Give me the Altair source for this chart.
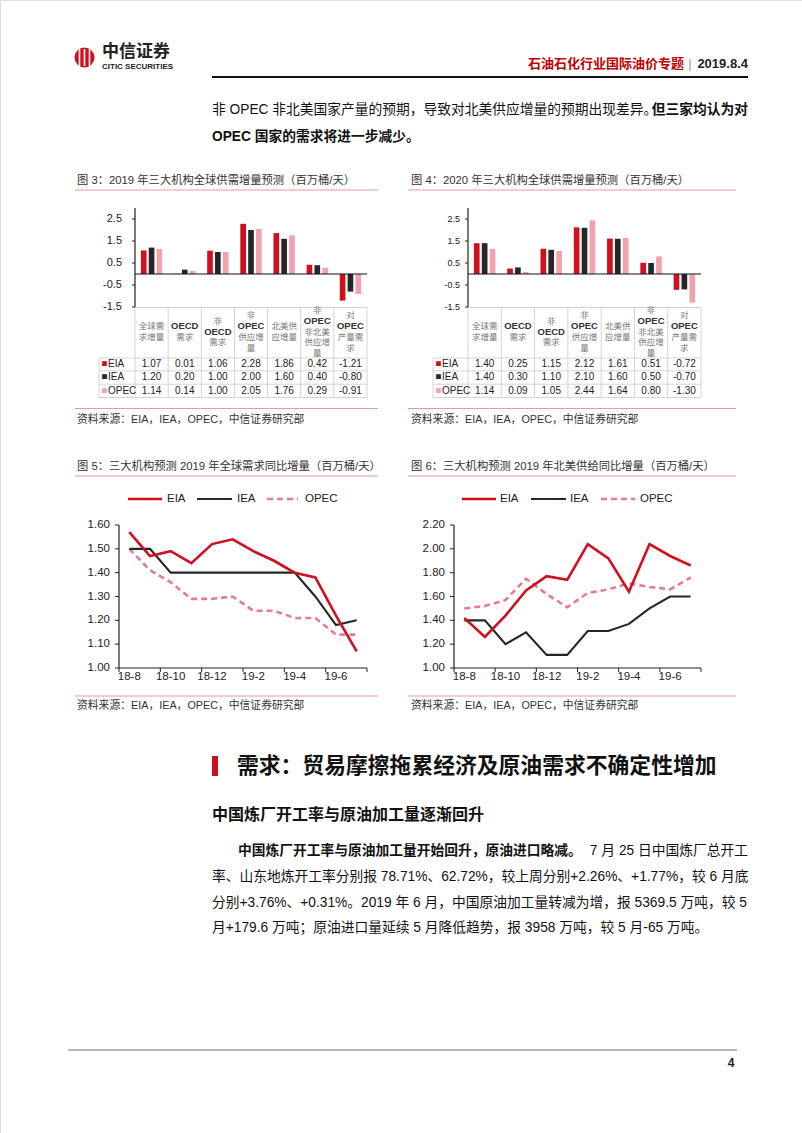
import altair as alt
import pandas as pd

W, H = 802, 1133
FONT = "Liberation Sans, Noto Sans CJK SC, sans-serif"
CJK = "Noto Sans CJK SC, sans-serif"

# ---------------- data ----------------
agencies = ["EIA", "IEA", "OPEC"]
bar_categories = ["全球需求增量", "OECD需求", "非OECD需求", "非OPEC供应增量",
                  "北美供应增量", "非OPEC非北美供应增量", "对OPEC产量需求"]
header_lines = [["全球需", "求增量"], ["OECD", "需求"], ["非", "OECD", "需求"],
                ["非", "OPEC", "供应增", "量"], ["北美供", "应增量"],
                ["非", "OPEC", "非北美", "供应增", "量"], ["对", "OPEC", "产量需", "求"]]
fig3_eia = [1.07, 0.01, 1.06, 2.28, 1.86, 0.42, -1.21]
fig3_iea = [1.20, 0.20, 1.00, 2.00, 1.60, 0.40, -0.80]
fig3_opec = [1.14, 0.14, 1.00, 2.05, 1.76, 0.29, -0.91]
fig4_eia = [1.40, 0.25, 1.15, 2.12, 1.61, 0.51, -0.72]
fig4_iea = [1.40, 0.30, 1.10, 2.10, 1.60, 0.50, -0.70]
fig4_opec = [1.14, 0.09, 1.05, 2.44, 1.64, 0.80, -1.30]
bar_y_ticks = [2.5, 1.5, 0.5, -0.5, -1.5]
bar_y_labels = ["2.5", "1.5", "0.5", "-0.5", "-1.5"]

months = ["18-8", "18-9", "18-10", "18-11", "18-12", "19-1",
          "19-2", "19-3", "19-4", "19-5", "19-6", "19-7"]
month_labels = ["18-8", "18-10", "18-12", "19-2", "19-4", "19-6"]
fig5_eia = [1.57, 1.47, 1.49, 1.44, 1.52, 1.54, 1.49, 1.45, 1.40, 1.38, 1.22, 1.07]
fig5_iea = [1.50, 1.50, 1.40, 1.40, 1.40, 1.40, 1.40, 1.40, 1.40, 1.30, 1.18, 1.20]
fig5_opec = [1.50, 1.41, 1.36, 1.29, 1.29, 1.30, 1.24, 1.24, 1.21, 1.21, 1.14, 1.14]
fig5_y_ticks = [1.0, 1.1, 1.2, 1.3, 1.4, 1.5, 1.6]
fig5_y_labels = ["1.00", "1.10", "1.20", "1.30", "1.40", "1.50", "1.60"]
fig6_eia = [1.42, 1.26, 1.44, 1.65, 1.77, 1.74, 2.04, 1.92, 1.64, 2.04, 1.94, 1.86]
fig6_iea = [1.40, 1.40, 1.20, 1.30, 1.11, 1.11, 1.31, 1.31, 1.37, 1.50, 1.60, 1.60]
fig6_opec = [1.50, 1.52, 1.57, 1.75, 1.62, 1.51, 1.63, 1.66, 1.71, 1.68, 1.66, 1.76]
fig6_y_ticks = [1.0, 1.2, 1.4, 1.6, 1.8, 2.0, 2.2]
fig6_y_labels = ["1.00", "1.20", "1.40", "1.60", "1.80", "2.00", "2.20"]

# ---------------- styles ----------------
BAR_COLORS = ["#D0101F", "#262626", "#F2A2AE"]
LINE_COLORS = {"EIA": "#D0101F", "IEA": "#262626", "OPEC": "#E27D90"}
TEXT = "#111111"
PINK_RULE = "#E39AA2"
GRID = "#D4D4D4"
BODY = 13.75

one = pd.DataFrame({"d": [0]})


def text(s, x, y, size=BODY, weight="normal", color=TEXT, align="left", font=FONT):
    return alt.Chart(one).mark_text(
        text=s, fontSize=size, fontWeight=weight, color=color, align=align,
        baseline="middle", font=font).encode(x=alt.value(x), y=alt.value(y))


def hrule(x1, x2, y, color, w=1.0):
    return alt.Chart(one).mark_rule(color=color, strokeWidth=w).encode(
        x=alt.value(x1), x2=alt.value(x2), y=alt.value(y))


def vrule(x, y1, y2, color, w=1.0):
    return alt.Chart(one).mark_rule(color=color, strokeWidth=w).encode(
        x=alt.value(x), y=alt.value(y1), y2=alt.value(y2))


def box(x1, x2, y1, y2, color):
    return alt.Chart(one).mark_rect(color=color).encode(
        x=alt.value(x1), x2=alt.value(x2), y=alt.value(y1), y2=alt.value(y2))


def bar_panel(values, x0, x1, tick_x, tick_size, tbl_left):
    L = []
    ys = alt.Scale(domain=[-1.5, 3.0], range=[307, 208], nice=False, zero=False)
    xs = alt.Scale(type="band", domain=bar_categories, range=[x0, x1],
                   paddingInner=0, paddingOuter=0)
    rows = []
    for a, vals in zip(agencies, values):
        for c, v in zip(bar_categories, vals):
            rows.append({"cat": c, "agency": a, "value": v, "label": f"{v:.2f}"})
    df = pd.DataFrame(rows)
    # table grid
    cats = pd.DataFrame({"cat": bar_categories})
    L.append(alt.Chart(cats).mark_rule(color=GRID, strokeWidth=1).encode(
        x=alt.X("cat:N", scale=xs, axis=None, bandPosition=0),
        y=alt.value(307), y2=alt.value(397.5)))
    L.append(vrule(x1, 307, 397.5, GRID))
    L.append(vrule(tbl_left, 358, 397.5, GRID))
    L.append(hrule(x0, x1, 307.5, GRID))
    for yy in [358, 370.8, 384.2, 397.5]:
        L.append(hrule(tbl_left, x1, yy, GRID))
    # bars
    L.append(alt.Chart(df).mark_bar().encode(
        x=alt.X("cat:N", scale=xs, axis=None),
        xOffset=alt.XOffset("agency:N", scale=alt.Scale(domain=agencies, paddingInner=0.28,
                                                         paddingOuter=0.75)),
        y=alt.Y("value:Q", scale=ys, axis=None),
        y2=alt.datum(0),
        color=alt.Color("agency:N", scale=alt.Scale(domain=agencies, range=BAR_COLORS),
                        legend=None)))
    # y axis
    L.append(alt.Chart(one).mark_rule(color="#222", strokeWidth=1.2).encode(
        x=alt.value(x0), y=alt.Y(datum=-1.5, scale=ys, axis=None), y2=alt.Y2(datum=3.0)))
    tdf = pd.DataFrame({"v": bar_y_ticks, "lab": bar_y_labels})
    L.append(alt.Chart(tdf).mark_rule(color="#222", strokeWidth=1).encode(
        x=alt.value(x0 - 3), x2=alt.value(x0), y=alt.Y("v:Q", scale=ys, axis=None)))
    L.append(alt.Chart(tdf).mark_text(align="right", baseline="middle", fontSize=tick_size,
                                      font=FONT, color="#222").encode(
        x=alt.value(tick_x), y=alt.Y("v:Q", scale=ys, axis=None), text="lab:N"))
    # zero line
    L.append(alt.Chart(one).mark_rule(color="#111", strokeWidth=1.2).encode(
        x=alt.value(x0), x2=alt.value(x1), y=alt.Y(datum=0, scale=ys, axis=None)))
    # header cells
    hrows = []
    for c, lines in zip(bar_categories, header_lines):
        n = len(lines)
        for i, s in enumerate(lines):
            hrows.append({"cat": c, "off": i - (n - 1) / 2, "t": s,
                          "latin": s.isascii()})
    hdf = pd.DataFrame(hrows)
    hs = alt.Scale(domain=[-2, 2], range=[331.5 - 21.6, 331.5 + 21.6], nice=False, zero=False)
    L.append(alt.Chart(hdf[~hdf.latin]).mark_text(fontSize=8.5, font=CJK, color="#777",
                                                 baseline="middle").encode(
        x=alt.X("cat:N", scale=xs, axis=None), y=alt.Y("off:Q", scale=hs, axis=None), text="t:N"))
    L.append(alt.Chart(hdf[hdf.latin]).mark_text(fontSize=9.5, font=FONT, color="#333",
                                                fontWeight="bold", baseline="middle").encode(
        x=alt.X("cat:N", scale=xs, axis=None), y=alt.Y("off:Q", scale=hs, axis=None), text="t:N"))
    # values
    rs = alt.Scale(type="point", domain=agencies, range=[364, 390.8], padding=0)
    L.append(alt.Chart(df).mark_text(fontSize=10, font=FONT, color="#222",
                                     baseline="middle").encode(
        x=alt.X("cat:N", scale=xs, axis=None), y=alt.Y("agency:N", scale=rs, axis=None),
        text="label:N"))
    adf = pd.DataFrame({"agency": agencies})
    L.append(alt.Chart(adf).mark_text(text="■", fontSize=6, font=CJK, baseline="middle",
                                      align="left").encode(
        x=alt.value(tbl_left + 2.5), y=alt.Y("agency:N", scale=rs, axis=None),
        color=alt.Color("agency:N", scale=alt.Scale(domain=agencies, range=BAR_COLORS),
                        legend=None)))
    L.append(alt.Chart(adf).mark_text(fontSize=10, font=FONT, baseline="middle",
                                      align="left", color="#222").encode(
        x=alt.value(tbl_left + 9), y=alt.Y("agency:N", scale=rs, axis=None), text="agency:N"))
    return L


def line_panel(series, ticks, tick_labels, ydom, x0, x1, ytop, ybot, lab_x, leg):
    L = []
    xs = alt.Scale(type="point", domain=months, range=[x0, x1], padding=0.5)
    xb = alt.Scale(type="band", domain=months, range=[x0, x1], paddingInner=0, paddingOuter=0)
    ys = alt.Scale(domain=ydom, range=[ybot, ytop], nice=False, zero=False)
    # axes
    L.append(alt.Chart(one).mark_rule(color="#222", strokeWidth=1.2).encode(
        x=alt.value(x0), y=alt.Y(datum=ydom[0], scale=ys, axis=None), y2=alt.Y2(datum=ydom[1])))
    L.append(alt.Chart(one).mark_rule(color="#222", strokeWidth=1.2).encode(
        x=alt.value(x0), x2=alt.value(x1), y=alt.Y(datum=ydom[0], scale=ys, axis=None)))
    tdf = pd.DataFrame({"v": ticks, "lab": tick_labels})
    L.append(alt.Chart(tdf).mark_rule(color="#222", strokeWidth=1).encode(
        x=alt.value(x0 - 4), x2=alt.value(x0), y=alt.Y("v:Q", scale=ys, axis=None)))
    L.append(alt.Chart(tdf).mark_text(align="right", baseline="middle", fontSize=11.5,
                                      font=FONT, color="#222").encode(
        x=alt.value(lab_x), y=alt.Y("v:Q", scale=ys, axis=None), text="lab:N"))
    mdf = pd.DataFrame({"month": months[0::2]})
    L.append(alt.Chart(mdf).mark_rule(color="#222", strokeWidth=1).encode(
        x=alt.X("month:N", scale=xb, axis=None, bandPosition=0),
        y=alt.value(ybot), y2=alt.value(ybot + 4)))
    L.append(vrule(x1, ybot, ybot + 4, "#222"))
    ldf = pd.DataFrame({"month": month_labels})
    L.append(alt.Chart(ldf).mark_text(baseline="middle", fontSize=11.5, font=FONT,
                                      color="#222").encode(
        x=alt.X("month:N", scale=xs, axis=None), y=alt.value(ybot + 9), text="month:N"))
    # series
    for a in ["OPEC", "IEA", "EIA"]:
        d = pd.DataFrame({"month": months, "value": series[a], "i": list(range(len(months)))})
        kw = dict(color=LINE_COLORS[a], strokeWidth=2.6)
        if a == "OPEC":
            kw["strokeDash"] = [6, 4]
        if a == "IEA":
            kw["strokeWidth"] = 2.1
        L.append(alt.Chart(d).mark_line(**kw).encode(
            x=alt.X("month:N", scale=xs, axis=None),
            y=alt.Y("value:Q", scale=ys, axis=None),
            order="i:Q"))
    # legend
    ly = leg[0]
    for a, (lx1, lx2, tx) in zip(agencies, leg[1:]):
        r = alt.Chart(one).mark_rule(color=LINE_COLORS[a],
                                     strokeWidth=2.1 if a == "IEA" else 2.6,
                                     **({"strokeDash": [6, 4]} if a == "OPEC" else {})).encode(
            x=alt.value(lx1), x2=alt.value(lx2), y=alt.value(ly))
        L.append(r)
        L.append(text(a, tx, ly, size=11.5, color="#222"))
    return L


layers = []

# ---------------- page header ----------------
layers.append(alt.Chart(one).mark_circle(size=400, color="#D0101F", opacity=1).encode(
    x=alt.value(84.5), y=alt.value(57.5)))
for xx in [79.5, 84.5, 89.5]:
    layers.append(vrule(xx, 49, 66, "white", 1.6))
layers.append(text("中信证券", 102, 52, size=17, weight="bold", font=CJK, color="#222"))
layers.append(text("CITIC SECURITIES", 102, 66.5, size=8, weight="bold",
                   font="Liberation Sans Narrow, Liberation Sans", color="#222"))
layers.append(text("石油石化行业国际油价专题", 684, 64, size=13, weight="bold",
                   color="#C00000", align="right", font=CJK))
layers.append(text("|", 690, 64, size=13, color="#999", align="center"))
layers.append(text("2019.8.4", 748, 64, size=13, weight="bold", color="#222", align="right"))
layers.append(hrule(212, 748, 77, "#111", 1.8))

# ---------------- top paragraph ----------------
layers.append(text("非 OPEC 非北美国家产量的预期，导致对北美供应增量的预期出现差异。", 212, 110))
layers.append(text("但三家均认为对", 748, 110, weight="bold", align="right"))
layers.append(text("OPEC 国家的需求将进一步减少。", 212, 137, weight="bold"))

# ---------------- figure titles / sources ----------------
TS = 11.3
SS = 10.8
layers.append(text("图 3：2019 年三大机构全球供需增量预测（百万桶/天）", 77, 181, size=TS, color="#333"))
layers.append(text("图 4：2020 年三大机构全球供需增量预测（百万桶/天）", 411, 181, size=TS, color="#333"))
layers.append(hrule(75, 378, 190, PINK_RULE))
layers.append(hrule(408, 736, 190, PINK_RULE))
layers.append(hrule(75, 378, 408.5, PINK_RULE))
layers.append(hrule(408, 736, 408.5, PINK_RULE))
layers.append(text("资料来源：EIA，IEA，OPEC，中信证券研究部", 77, 420, size=SS, color="#333"))
layers.append(text("资料来源：EIA，IEA，OPEC，中信证券研究部", 411, 420, size=SS, color="#333"))

layers.append(text("图 5：三大机构预测 2019 年全球需求同比增量（百万桶/天）", 77, 467, size=TS, color="#333"))
layers.append(text("图 6：三大机构预测 2019 年北美供给同比增量（百万桶/天）", 411, 467, size=TS, color="#333"))
layers.append(hrule(75, 378, 476, PINK_RULE))
layers.append(hrule(408, 736, 476, PINK_RULE))
layers.append(hrule(75, 378, 696, PINK_RULE))
layers.append(hrule(408, 736, 696, PINK_RULE))
layers.append(text("资料来源：EIA，IEA，OPEC，中信证券研究部", 77, 706, size=SS, color="#333"))
layers.append(text("资料来源：EIA，IEA，OPEC，中信证券研究部", 411, 706, size=SS, color="#333"))

# ---------------- charts ----------------
layers += bar_panel([fig3_eia, fig3_iea, fig3_opec], 135, 367, 122, 11, 99)
layers += bar_panel([fig4_eia, fig4_iea, fig4_opec], 468, 701, 460, 9, 433)

layers += line_panel({"EIA": fig5_eia, "IEA": fig5_iea, "OPEC": fig5_opec},
                     fig5_y_ticks, fig5_y_labels, [1.0, 1.6], 119, 367, 525, 668, 110,
                     (499, (128, 162, 167), (197, 232, 237), (267, 298, 305)))
layers += line_panel({"EIA": fig6_eia, "IEA": fig6_iea, "OPEC": fig6_opec},
                     fig6_y_ticks, fig6_y_labels, [1.0, 2.2], 454, 701, 525, 668, 445,
                     (499, (462, 496, 500), (531, 566, 570), (601, 635, 640)))

# ---------------- section ----------------
layers.append(box(212, 218, 756, 776, "#C8101E"))
layers.append(text("需求：贸易摩擦拖累经济及原油需求不确定性增加", 237, 766, size=21.8,
                   weight="bold", font=CJK, color="#111"))
layers.append(text("中国炼厂开工率与原油加工量逐渐回升", 212, 815, size=16, weight="bold",
                   font=CJK))
layers.append(text("中国炼厂开工率与原油加工量开始回升，原油进口略减。", 238, 851, weight="bold"))
layers.append(text("7 月 25 日中国炼厂总开工", 748, 851, align="right"))
layers.append(text("率、山东地炼开工率分别报 78.71%、62.72%，较上周分别+2.26%、+1.77%，较 6 月底", 212, 877))
layers.append(text("分别+3.76%、+0.31%。2019 年 6 月，中国原油加工量转减为增，报 5369.5 万吨，较 5", 212, 903))
layers.append(text("月+179.6 万吨；原油进口量延续 5 月降低趋势，报 3958 万吨，较 5 月-65 万吨。", 212, 928))

# ---------------- footer ----------------
layers.append(hrule(68, 737, 1050, "#A0A0A0", 1.6))
layers.append(text("4", 731, 1063, size=12, weight="bold", color="#222", align="center"))

chart = alt.layer(*layers).properties(
    width=W, height=H, padding=0,
    autosize=alt.AutoSizeParams(type="none"),
).resolve_scale(
    x="independent", y="independent", color="independent", xOffset="independent"
).configure_view(stroke=None).configure(background="white")

chart.save("out.html", embed_options={"renderer": "svg", "actions": False})
